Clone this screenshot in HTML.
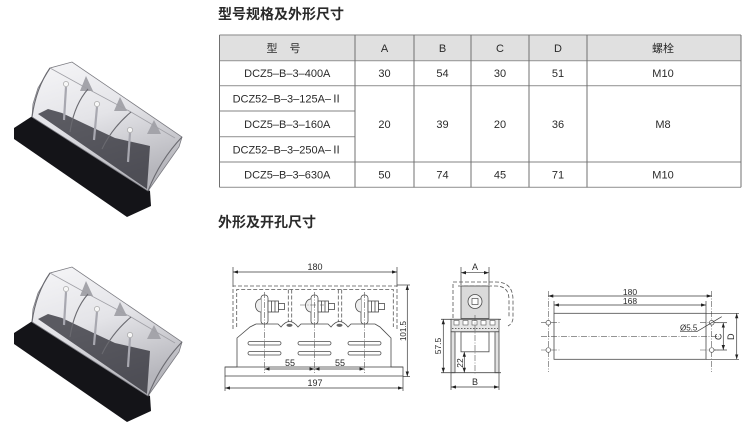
<!DOCTYPE html>
<html>
<head>
<meta charset="utf-8">
<style>
html,body{margin:0;padding:0;background:#fff;}
body{width:750px;height:434px;overflow:hidden;}
svg{display:block;}
.t{font-family:"Liberation Sans","Noto Sans CJK SC",sans-serif;fill:#2a2a2a;}
.ln{stroke:#4a4a4a;stroke-width:0.8;fill:none;}
.dl{stroke:#3a3a3a;stroke-width:0.7;fill:none;}
.ds{stroke:#555;stroke-width:0.8;fill:none;stroke-dasharray:4,2;}
.cl{stroke:#555;stroke-width:0.6;fill:none;stroke-dasharray:6,1.5,1,1.5;}
</style>
</head>
<body>
<svg width="750" height="434" viewBox="0 0 750 434" xmlns="http://www.w3.org/2000/svg">
<defs>
<marker id="ar" viewBox="0 0 6 4" refX="6" refY="2" markerWidth="5" markerHeight="3.4" orient="auto-start-reverse" markerUnits="userSpaceOnUse">
<path d="M0,0 L6,2 L0,4 z" fill="#222"/>
</marker>
<linearGradient id="cg" x1="0" y1="0" x2="0.35" y2="1">
<stop offset="0" stop-color="#f6f6f8"/>
<stop offset="0.5" stop-color="#e4e4e8"/>
<stop offset="1" stop-color="#b6b6bc"/>
</linearGradient>
</defs>

<!-- ===== PHOTO 1 ===== -->
<g>
<polygon points="14,128 34,115 150,191 151,206 127,217 14,139" fill="#141418"/>
<polygon points="32,117 33,104 38,88 50,68 72,62 182,137 179,147 148,191" fill="url(#cg)" stroke="#7a7a80" stroke-width="0.8"/>
<polygon points="38,114 48,109 62,113 85,124 115,138 150,146 147,189" fill="#2b2b33" opacity="0.75"/>
<polygon points="80,91 86,76 93,91" fill="#a4a4aa"/>
<polygon points="114,111 120,97 127,111" fill="#a4a4aa"/>
<polygon points="147,134 154,120 161,134" fill="#a4a4aa"/>
<line x1="66" y1="87" x2="64" y2="120" stroke="#a8a8b0" stroke-width="2.2"/>
<line x1="97" y1="107" x2="94" y2="140" stroke="#a8a8b0" stroke-width="2.2"/>
<line x1="130" y1="133" x2="128" y2="162" stroke="#a8a8b0" stroke-width="2.2"/>
<circle cx="66" cy="84" r="2.6" fill="#f6f6f6" stroke="#999" stroke-width="0.6"/>
<circle cx="97" cy="104" r="2.6" fill="#f6f6f6" stroke="#999" stroke-width="0.6"/>
<circle cx="130" cy="130" r="2.6" fill="#f6f6f6" stroke="#999" stroke-width="0.6"/>
<path d="M50,68 L88,89 L131,112 L175,138" stroke="#a0a0a6" stroke-width="0.8" fill="none"/>
<path d="M50,68 Q36,88 32,117" stroke="#6a6a70" stroke-width="1.1" fill="none"/>
<path d="M88,89 Q74,105 70,132" stroke="#6a6a70" stroke-width="1.1" fill="none"/>
<path d="M131,112 Q112,128 102,149" stroke="#6a6a70" stroke-width="1.1" fill="none"/>
<path d="M182,137 Q160,160 148,191" stroke="#6a6a70" stroke-width="1.1" fill="none"/>
</g>

<!-- ===== PHOTO 2 ===== -->
<g transform="translate(0,205)">
<polygon points="14,128 34,115 150,191 151,206 127,217 14,139" fill="#141418"/>
<polygon points="32,117 33,104 38,88 50,68 72,62 182,137 179,147 148,191" fill="url(#cg)" stroke="#7a7a80" stroke-width="0.8"/>
<polygon points="38,114 48,109 62,113 85,124 115,138 150,146 147,189" fill="#2b2b33" opacity="0.75"/>
<polygon points="80,91 86,76 93,91" fill="#a4a4aa"/>
<polygon points="114,111 120,97 127,111" fill="#a4a4aa"/>
<polygon points="147,134 154,120 161,134" fill="#a4a4aa"/>
<line x1="66" y1="87" x2="64" y2="120" stroke="#a8a8b0" stroke-width="2.2"/>
<line x1="97" y1="107" x2="94" y2="140" stroke="#a8a8b0" stroke-width="2.2"/>
<line x1="130" y1="133" x2="128" y2="162" stroke="#a8a8b0" stroke-width="2.2"/>
<circle cx="66" cy="84" r="2.6" fill="#f6f6f6" stroke="#999" stroke-width="0.6"/>
<circle cx="97" cy="104" r="2.6" fill="#f6f6f6" stroke="#999" stroke-width="0.6"/>
<circle cx="130" cy="130" r="2.6" fill="#f6f6f6" stroke="#999" stroke-width="0.6"/>
<path d="M50,68 L88,89 L131,112 L175,138" stroke="#a0a0a6" stroke-width="0.8" fill="none"/>
<path d="M50,68 Q36,88 32,117" stroke="#6a6a70" stroke-width="1.1" fill="none"/>
<path d="M88,89 Q74,105 70,132" stroke="#6a6a70" stroke-width="1.1" fill="none"/>
<path d="M131,112 Q112,128 102,149" stroke="#6a6a70" stroke-width="1.1" fill="none"/>
<path d="M182,137 Q160,160 148,191" stroke="#6a6a70" stroke-width="1.1" fill="none"/>
</g>

<!-- ===== TITLES ===== -->
<text class="t" x="218" y="19" font-size="14" font-weight="bold" fill="#1a1a1a">型号规格及外形尺寸</text>
<text class="t" x="218" y="227" font-size="14" font-weight="bold" fill="#1a1a1a">外形及开孔尺寸</text>

<!-- ===== TABLE ===== -->
<rect x="219.5" y="35" width="521.5" height="25.7" fill="#e0e0e0"/>
<g stroke="#9c9c9c" stroke-width="1.2">
<line x1="219.5" y1="35" x2="741" y2="35"/>
<line x1="219.5" y1="60.7" x2="741" y2="60.7"/>
<line x1="219.5" y1="85.7" x2="741" y2="85.7"/>
<line x1="219.5" y1="111" x2="355" y2="111"/>
<line x1="219.5" y1="136.7" x2="355" y2="136.7"/>
<line x1="219.5" y1="162" x2="741" y2="162"/>
<line x1="219.5" y1="187.3" x2="741" y2="187.3"/>
</g>
<g stroke="#707070" stroke-width="1">
<line x1="219.5" y1="35" x2="219.5" y2="187.3"/>
<line x1="355" y1="35" x2="355" y2="187.3"/>
<line x1="414" y1="35" x2="414" y2="187.3"/>
<line x1="471" y1="35" x2="471" y2="187.3"/>
<line x1="529" y1="35" x2="529" y2="187.3"/>
<line x1="587" y1="35" x2="587" y2="187.3"/>
<line x1="741" y1="35" x2="741" y2="187.3"/>
</g>
<g class="t" font-size="11" text-anchor="middle">
<text x="272" y="52">型</text><text x="295" y="52">号</text>
<text x="384.5" y="52">A</text>
<text x="442.5" y="52">B</text>
<text x="500" y="52">C</text>
<text x="558" y="52">D</text>
<text x="663" y="52">螺栓</text>

<text x="287.3" y="77.2">DCZ5–B–3–400A</text>
<text x="384.5" y="77.2">30</text>
<text x="442.5" y="77.2">54</text>
<text x="500" y="77.2">30</text>
<text x="558" y="77.2">51</text>
<text x="663" y="77.2">M10</text>

<text x="287.3" y="102.3">DCZ52–B–3–125A–Ⅱ</text>
<text x="287.3" y="127.8">DCZ5–B–3–160A</text>
<text x="287.3" y="153.3">DCZ52–B–3–250A–Ⅱ</text>
<text x="384.5" y="127.8">20</text>
<text x="442.5" y="127.8">39</text>
<text x="500" y="127.8">20</text>
<text x="558" y="127.8">36</text>
<text x="663" y="127.8">M8</text>

<text x="287.3" y="178.7">DCZ5–B–3–630A</text>
<text x="384.5" y="178.7">50</text>
<text x="442.5" y="178.7">74</text>
<text x="500" y="178.7">45</text>
<text x="558" y="178.7">71</text>
<text x="663" y="178.7">M10</text>
</g>

<!-- ===== FRONT VIEW ===== -->
<line class="dl" x1="233" y1="267" x2="233" y2="286"/>
<line class="dl" x1="397" y1="267" x2="397" y2="286"/>
<line class="dl" x1="233" y1="272" x2="397" y2="272" marker-start="url(#ar)" marker-end="url(#ar)"/>
<text class="t" x="315" y="270" font-size="9" text-anchor="middle">180</text>

<path class="ds" d="M233,329 L233,286 L397,286 L397,329"/>
<path class="ds" d="M236.7,327 L236.7,289.5 L393.3,289.5 L393.3,327"/>
<line class="ds" x1="288.3" y1="289.5" x2="288.3" y2="322"/>
<line class="ds" x1="291.7" y1="289.5" x2="291.7" y2="322"/>
<line class="ds" x1="338.3" y1="289.5" x2="338.3" y2="322"/>
<line class="ds" x1="341.7" y1="289.5" x2="341.7" y2="322"/>

<path class="ln" d="M225,367 L237,367 L237,338 L250,327 L256,324 L278,324 L281,327 Q289.5,316 298,327 L301,324 L328,324 L331,327 Q339.5,316 348,327 L351,324 L375,324 L380,327 L391,338 L391,367 L403,367"/>
<rect class="ln" x="225" y="367" width="178" height="9"/>
<ellipse cx="289.5" cy="325.3" rx="3" ry="1.6" fill="#666"/>
<ellipse cx="339.5" cy="325.3" rx="3" ry="1.6" fill="#666"/>

<g class="ln" fill="#fff">
<rect x="261" y="295" width="7" height="29" rx="3" fill="#fff"/>
<path d="M261,299 A5.5,6.5 0 0 0 261,312" fill="#eee"/>
<rect x="268" y="301" width="10.5" height="11" fill="#fff"/>
<line x1="271.5" y1="301" x2="271.5" y2="312"/><line x1="275" y1="301" x2="275" y2="312"/>
<rect x="278.5" y="303.5" width="6" height="6" fill="#fff"/>

<rect x="311" y="295" width="7" height="29" rx="3" fill="#fff"/>
<path d="M311,299 A5.5,6.5 0 0 0 311,312" fill="#eee"/>
<rect x="318" y="301" width="10.5" height="11" fill="#fff"/>
<line x1="321.5" y1="301" x2="321.5" y2="312"/><line x1="325" y1="301" x2="325" y2="312"/>
<rect x="328.5" y="303.5" width="6" height="6" fill="#fff"/>

<rect x="361" y="295" width="7" height="29" rx="3" fill="#fff"/>
<path d="M361,299 A5.5,6.5 0 0 0 361,312" fill="#eee"/>
<rect x="368" y="301" width="10.5" height="11" fill="#fff"/>
<line x1="371.5" y1="301" x2="371.5" y2="312"/><line x1="375" y1="301" x2="375" y2="312"/>
<rect x="378.5" y="303.5" width="6" height="6" fill="#fff"/>
</g>
<line class="cl" x1="300" y1="305" x2="324" y2="305"/>

<g class="ln">
<rect x="248" y="341.5" width="33" height="3.5" rx="1.7"/>
<rect x="248" y="351.5" width="33" height="3.5" rx="1.7"/>
<rect x="298" y="341.5" width="33" height="3.5" rx="1.7"/>
<rect x="298" y="351.5" width="33" height="3.5" rx="1.7"/>
<rect x="348" y="341.5" width="33" height="3.5" rx="1.7"/>
<rect x="348" y="351.5" width="33" height="3.5" rx="1.7"/>
</g>

<line class="cl" x1="264.5" y1="292" x2="264.5" y2="373"/>
<line class="cl" x1="314.5" y1="292" x2="314.5" y2="373"/>
<line class="cl" x1="364.5" y1="292" x2="364.5" y2="373"/>

<line class="dl" x1="264.5" y1="369" x2="314.5" y2="369" marker-start="url(#ar)" marker-end="url(#ar)"/>
<line class="dl" x1="314.5" y1="369" x2="364.5" y2="369" marker-start="url(#ar)" marker-end="url(#ar)"/>
<text class="t" x="290" y="366" font-size="9" text-anchor="middle">55</text>
<text class="t" x="340" y="366" font-size="9" text-anchor="middle">55</text>

<line class="dl" x1="225" y1="376" x2="225" y2="391"/>
<line class="dl" x1="403" y1="376" x2="403" y2="391"/>
<line class="dl" x1="225" y1="388" x2="403" y2="388" marker-start="url(#ar)" marker-end="url(#ar)"/>
<text class="t" x="315" y="386" font-size="9" text-anchor="middle">197</text>

<line class="dl" x1="397" y1="285" x2="410" y2="285"/>
<line class="dl" x1="403" y1="376.5" x2="410" y2="376.5"/>
<line class="dl" x1="407.3" y1="285" x2="407.3" y2="376.5" marker-start="url(#ar)" marker-end="url(#ar)"/>
<text class="t" x="406" y="331" font-size="8" text-anchor="middle" transform="rotate(-90 406 331)">101.5</text>

<!-- ===== SIDE VIEW ===== -->
<line class="dl" x1="461" y1="267" x2="461" y2="285"/>
<line class="dl" x1="489" y1="267" x2="489" y2="285"/>
<line class="dl" x1="461" y1="272.7" x2="489" y2="272.7" marker-start="url(#ar)" marker-end="url(#ar)"/>
<text class="t" x="475" y="270" font-size="9" text-anchor="middle">A</text>

<path class="ds" d="M453,318 L453,282 L496,282 Q513,282 513,300 L513,318 Q513,323 508,326"/>
<path class="ds" d="M458,286 L496,286 Q509,286 509,300 L509,318"/>
<rect x="461" y="286" width="28" height="32.5" fill="#dadada" stroke="#4a4a4a" stroke-width="0.8"/>
<circle cx="475" cy="301.5" r="7" fill="#f4f4f4" stroke="#4a4a4a" stroke-width="0.8"/>
<rect x="472" y="298.5" width="6" height="6" fill="#fff" stroke="#4a4a4a" stroke-width="0.7"/>

<line class="ln" x1="441" y1="319.3" x2="501" y2="319.3"/>
<rect x="451" y="319.3" width="48" height="12.5" fill="#e6e6e6" stroke="#4a4a4a" stroke-width="0.8"/>
<g fill="#fff" stroke="#555" stroke-width="0.6">
<rect x="454" y="320.5" width="5" height="4.5"/>
<rect x="463" y="320.5" width="5" height="4.5"/>
<rect x="472" y="320.5" width="5" height="4.5"/>
<rect x="481" y="320.5" width="5" height="4.5"/>
<rect x="490" y="320.5" width="5" height="4.5"/>
</g>
<line x1="452" y1="328.5" x2="498" y2="328.5" stroke="#666" stroke-width="1" stroke-dasharray="1.5,1.5"/>
<rect x="451" y="331.8" width="4" height="40.9" fill="#e2e2e2" stroke="#4a4a4a" stroke-width="0.8"/>
<rect x="495" y="331.8" width="4" height="40.9" fill="#e2e2e2" stroke="#4a4a4a" stroke-width="0.8"/>
<rect class="ln" x="461" y="331.8" width="28" height="20" fill="#fff"/>
<line class="ln" x1="441" y1="372.7" x2="501" y2="372.7"/>
<line class="cl" x1="475" y1="315" x2="475" y2="375"/>

<line class="dl" x1="443.3" y1="319.3" x2="443.3" y2="372.7" marker-start="url(#ar)" marker-end="url(#ar)"/>
<text class="t" x="441" y="346" font-size="8.5" text-anchor="middle" transform="rotate(-90 441 346)">57.5</text>
<line class="dl" x1="464.3" y1="351.8" x2="464.3" y2="372.7" marker-start="url(#ar)" marker-end="url(#ar)"/>
<text class="t" x="463" y="363" font-size="8.5" text-anchor="middle" transform="rotate(-90 463 363)">22</text>

<line class="dl" x1="451" y1="373" x2="451" y2="390"/>
<line class="dl" x1="499" y1="373" x2="499" y2="390"/>
<line class="dl" x1="451" y1="387" x2="499" y2="387" marker-start="url(#ar)" marker-end="url(#ar)"/>
<text class="t" x="475" y="385" font-size="9" text-anchor="middle">B</text>

<!-- ===== BOTTOM VIEW ===== -->
<line class="dl" x1="548.3" y1="296" x2="711.7" y2="296" marker-start="url(#ar)" marker-end="url(#ar)"/>
<text class="t" x="630" y="295" font-size="8.5" text-anchor="middle">180</text>
<line class="dl" x1="554" y1="305" x2="706" y2="305" marker-start="url(#ar)" marker-end="url(#ar)"/>
<text class="t" x="630" y="304" font-size="8.5" text-anchor="middle">168</text>
<line class="dl" x1="554" y1="301" x2="554" y2="313.3"/>
<line class="dl" x1="706" y1="301" x2="706" y2="313.3"/>
<line class="cl" x1="548.3" y1="291" x2="548.3" y2="372"/>
<line class="cl" x1="711.7" y1="291" x2="711.7" y2="372"/>
<rect class="ln" x="554" y="313.3" width="152" height="46"/>
<line class="dl" x1="706" y1="313.3" x2="739" y2="313.3"/>
<line class="dl" x1="706" y1="359.3" x2="739" y2="359.3"/>
<line class="cl" x1="541" y1="336.7" x2="719" y2="336.7"/>
<g class="cl">
<line x1="541" y1="322.7" x2="560" y2="322.7"/>
<line x1="541" y1="350" x2="560" y2="350"/>
<line x1="700" y1="322.7" x2="719" y2="322.7"/>
<line x1="700" y1="350" x2="719" y2="350"/>
</g>
<g fill="#fff" stroke="#4a4a4a" stroke-width="0.7">
<circle cx="548.3" cy="322.7" r="2.3"/>
<circle cx="548.3" cy="350" r="2.3"/>
<circle cx="711.7" cy="322.7" r="2.3"/>
<circle cx="711.7" cy="350" r="2.3"/>
</g>
<line class="dl" x1="714" y1="322.7" x2="727" y2="322.7"/>
<line class="dl" x1="714" y1="350" x2="727" y2="350"/>
<line class="dl" x1="723.3" y1="322.7" x2="723.3" y2="350" marker-start="url(#ar)" marker-end="url(#ar)"/>
<text class="t" x="721.7" y="336.7" font-size="9" text-anchor="middle" transform="rotate(-90 721.7 336.7)">C</text>
<line class="dl" x1="736.7" y1="313.3" x2="736.7" y2="359.3" marker-start="url(#ar)" marker-end="url(#ar)"/>
<text class="t" x="734" y="336.7" font-size="9" text-anchor="middle" transform="rotate(-90 734 336.7)">D</text>
<path class="dl" d="M680,331.7 L696.7,331.7 L721.7,316.7"/>
<text class="t" x="680" y="330.5" font-size="8">Ø5.5</text>
</svg>
</body>
</html>
